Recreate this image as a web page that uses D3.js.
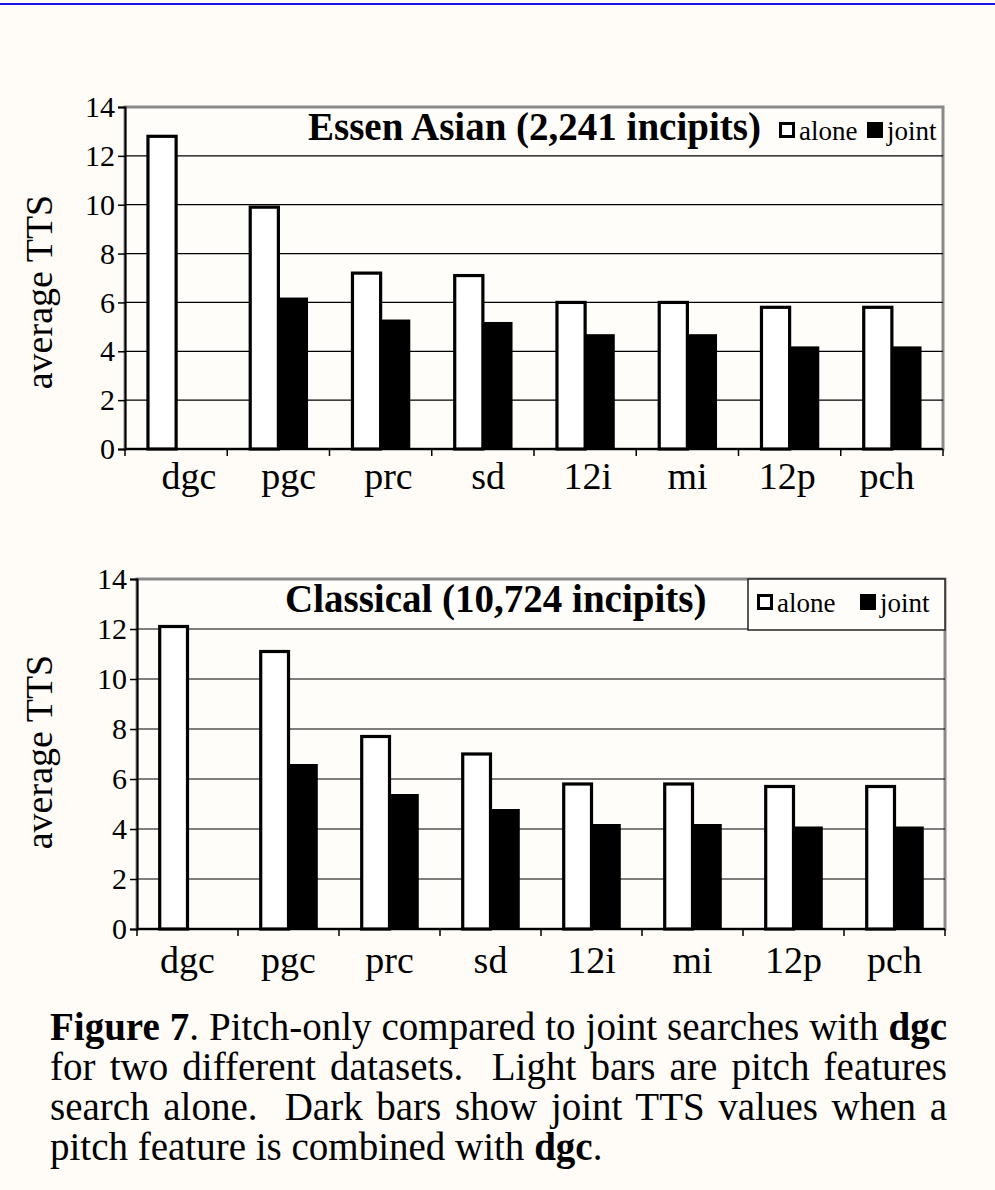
<html>
<head>
<meta charset="utf-8">
<style>
  body { margin: 0; background: #fffcf8; }
  svg text { font-family: "Liberation Serif", "Times New Roman", serif; }
</style>
</head>
<body>
<script src="https://d3js.org/d3.v7.min.js"></script>
<div id="fig"></div>
<script>
// data
var categories = ["dgc", "pgc", "prc", "sd", "12i", "mi", "12p", "pch"];
var seriesNames = ["alone", "joint"];
var essenAlone = [12.8, 9.9, 7.2, 7.1, 6.0, 6.0, 5.8, 5.8];
var essenJoint = [null, 6.2, 5.3, 5.2, 4.7, 4.7, 4.2, 4.2];
var classicalAlone = [12.1, 11.1, 7.7, 7.0, 5.8, 5.8, 5.7, 5.7];
var classicalJoint = [null, 6.6, 5.4, 4.8, 4.2, 4.2, 4.1, 4.1];
var yTicks = [0, 2, 4, 6, 8, 10, 12, 14];
var yLabel = "average TTS";

var W = 995, H = 1190;
var svg = d3.select("#fig").append("svg")
    .attr("width", W).attr("height", H);

// blue rule at the top of the page
svg.append("rect").attr("x", 0).attr("y", 3).attr("width", W).attr("height", 2)
    .attr("fill", "#1414e6");

function drawChart(opt) {
  var x = d3.scaleBand().domain(categories).range([opt.left, opt.right]);
  var bw = x.bandwidth();
  var x1 = d3.scaleBand().domain(seriesNames).range([bw * 0.21, bw * 0.79]);
  var y = d3.scaleLinear().domain([0, 14]).range([opt.bottom, opt.top]);
  // category labels (top chart's labels sit slightly off the band centres)
  var xl = d3.scalePoint().domain(categories)
      .range(opt.labelRange || [opt.left + bw / 2, opt.right - bw / 2]);

  var g = svg.append("g");

  // frame (grey top/right)
  g.append("rect")
      .attr("x", opt.left).attr("y", opt.top)
      .attr("width", opt.right - opt.left).attr("height", opt.bottom - opt.top)
      .attr("fill", "#fffdfa").attr("stroke", "#8a8a8a").attr("stroke-width", 3);

  // gridlines
  g.selectAll(".grid").data(yTicks.filter(function(d) { return d > 0 && d < 14; }))
    .enter().append("line")
      .attr("x1", opt.left).attr("x2", opt.right)
      .attr("y1", function(d) { return y(d); }).attr("y2", function(d) { return y(d); })
      .attr("stroke", "#000").attr("stroke-width", 1.2);

  // bars
  var rows = categories.map(function(c, i) {
    return [{cat: c, s: "alone", v: opt.alone[i]}, {cat: c, s: "joint", v: opt.joint[i]}];
  });
  var groups = g.selectAll(".grp").data(rows).enter().append("g")
      .attr("transform", function(d) { return "translate(" + x(d[0].cat) + ",0)"; });
  groups.selectAll("rect")
    .data(function(d) { return d.filter(function(e) { return e.v != null; }); })
    .enter().append("rect")
      .attr("x", function(d) { return x1(d.s) + (d.s === "alone" ? 1.5 : 0); })
      .attr("width", function(d) { return x1.bandwidth() - (d.s === "alone" ? 1.5 : 0); })
      .attr("y", function(d) { return y(d.v); })
      .attr("height", function(d) { return y(0) - y(d.v); })
      .attr("fill", function(d) { return d.s === "alone" ? "#fff" : "#000"; })
      .attr("stroke", function(d) { return d.s === "alone" ? "#000" : "none"; })
      .attr("stroke-width", 3.2);

  // y axis
  var ya = g.append("g").attr("transform", "translate(" + opt.left + ",0)")
      .call(d3.axisLeft(y).tickValues(yTicks).tickSize(7).tickPadding(3));
  ya.attr("font-family", null);
  ya.select(".domain").attr("stroke-width", 2);
  ya.selectAll("line").attr("stroke-width", 1.5);
  ya.selectAll("text").attr("font-size", 30).attr("fill", "#000");

  // x axis: ticks at band edges
  var xa = g.append("g").attr("transform", "translate(0," + opt.bottom + ")");
  xa.append("line").attr("x1", opt.left).attr("x2", opt.right)
      .attr("stroke", "#000").attr("stroke-width", 2);
  var edges = categories.map(function(c) { return x(c); }).concat([opt.right]);
  xa.selectAll(".tk").data(edges).enter().append("line")
      .attr("x1", function(d) { return d; }).attr("x2", function(d) { return d; })
      .attr("y1", 0).attr("y2", 7).attr("stroke", "#000").attr("stroke-width", 1.5);
  xa.selectAll(".lbl").data(categories).enter().append("text")
      .attr("x", function(d) { return xl(d); })
      .attr("y", opt.labelDy)
      .attr("text-anchor", "middle").attr("font-size", 38)
      .text(function(d) { return d; });

  // y label
  g.append("text")
      .attr("transform", "translate(52," + opt.yLabelY + ") rotate(-90)")
      .attr("text-anchor", "middle").attr("font-size", 38)
      .text(yLabel);

  // legend box
  if (opt.legendBox) {
    g.append("rect")
        .attr("x", opt.legendBox[0]).attr("y", opt.legendBox[1])
        .attr("width", opt.legendBox[2]).attr("height", opt.legendBox[3])
        .attr("fill", "#fffdfa").attr("stroke", "#222").attr("stroke-width", 1.5);
  }

  // title
  g.append("text")
      .attr("x", opt.titleX).attr("y", opt.titleY)
      .attr("font-size", 39).attr("font-weight", "bold")
      .text(opt.title);

  // legend items
  seriesNames.forEach(function(s, i) {
    var lx = opt.legendX[i];
    g.append("rect")
        .attr("x", lx + 1.5).attr("y", opt.titleY - 16.5)
        .attr("width", 13).attr("height", 13)
        .attr("fill", s === "alone" ? "#fff" : "#000")
        .attr("stroke", "#000").attr("stroke-width", 3);
    g.append("text")
        .attr("x", lx + 20).attr("y", opt.titleY)
        .attr("font-size", 27)
        .text(s);
  });
}

drawChart({
  left: 125, right: 943, top: 107, bottom: 449,
  alone: essenAlone, joint: essenJoint,
  title: "Essen Asian (2,241 incipits)", titleX: 308, titleY: 140,
  legendX: [779, 867], labelDy: 40, yLabelY: 292,
  labelRange: [189, 887]
});

drawChart({
  left: 137, right: 945, top: 579, bottom: 929,
  alone: classicalAlone, joint: classicalJoint,
  title: "Classical (10,724 incipits)", titleX: 285, titleY: 612,
  legendX: [757, 860], labelDy: 44, yLabelY: 752,
  legendBox: [748, 579, 197, 51]
});

// caption, first three lines justified by word spacing
var caption = [
  {parts: [["Figure 7", true], [". Pitch-only compared to joint searches with ", false], ["dgc", true]], justify: true},
  {parts: [["for two different datasets.  Light bars are pitch features", false]], justify: true},
  {parts: [["search alone.  Dark bars show joint TTS values when a", false]], justify: true},
  {parts: [["pitch feature is combined with ", false], ["dgc", true], [".", false]], justify: false}
];
var capLeft = 50, capWidth = 897;
caption.forEach(function(line, i) {
  var t = svg.append("text")
      .attr("x", capLeft).attr("y", 1040 + i * 40)
      .attr("font-size", 39)
      .style("white-space", "pre");
  line.parts.forEach(function(p) {
    t.append("tspan").attr("font-weight", p[1] ? "bold" : "normal").text(p[0]);
  });
  if (line.justify) {
    var full = line.parts.map(function(p) { return p[0]; }).join("");
    var spaces = (full.match(/ /g) || []).length;
    var w = t.node().getComputedTextLength();
    t.attr("word-spacing", (capWidth - w) / spaces);
  }
});
</script>
</body>
</html>
